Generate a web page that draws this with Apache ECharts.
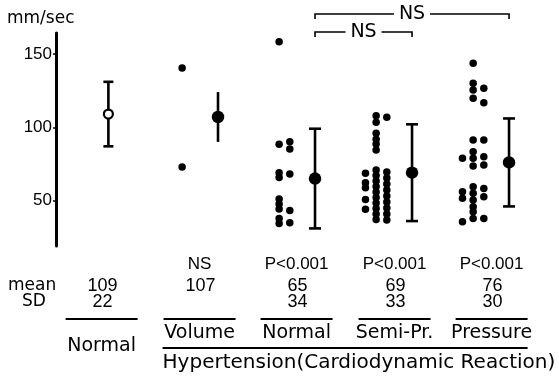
<!DOCTYPE html>
<html>
<head>
<meta charset="utf-8">
<script src="https://cdn.jsdelivr.net/npm/echarts@6/dist/echarts.min.js"></script>
<style>
  html, body { margin: 0; padding: 0; background: #fff; }
  #chart { width: 559px; height: 378px; }
</style>
</head>
<body>
<div id="chart"></div>
<script>
// ---- data (mm/sec) ----
const groupNames = ['Normal', 'Volume', 'Normal', 'Semi-Pr.', 'Pressure'];
const means = [109, 107, 65, 69, 76];
const sds = [22, null, 34, 33, 30];
const volumeSpread = 17;            // half-length of the volume group's bar (no SD printed)
const pLabels = ['', 'NS', 'P<0.001', 'P<0.001', 'P<0.001'];
const yTicks = [50, 100, 150];

// individual cases, one list per column of dots
const volumeDots = [[140.4, 72.9]];
const normalHtDots = [
  [158.4, 88.4, 69.0, 65.8, 51.0, 47.6, 44.2, 37.8, 34.4],
  [90.1, 85.2, 68.1, 43.3, 34.8]
];
const semiPrDots = [
  [68.6, 62.2, 58.7, 50.8, 44.0],
  [107.9, 103.4, 95.9, 91.8, 88.6, 84.5, 70.8, 67.1, 63.3, 59.6, 55.8, 52.0, 48.3, 44.5, 40.8, 37.0],
  [106.8, 69.5, 65.4, 61.3, 57.2, 53.1, 49.0, 44.9, 40.8, 36.7]
];
const pressureDots = [
  [78.8, 56.0, 51.5, 35.5],
  [143.7, 130.0, 125.4, 119.8, 91.3, 83.3, 78.8, 73.5, 59.4, 54.9, 50.3, 45.8, 42.4, 37.8],
  [126.6, 116.8, 91.3, 79.9, 74.2, 58.3, 52.6, 37.8]
];
const dotGroups = [null, volumeDots, normalHtDots, semiPrDots, pressureDots];

// ---- layout ----
const groupX = [-0.13, 1, 2, 3, 4];          // position of each mean/SD bar
const colOffsets = {1: [-0.37], 2: [-0.37, -0.26], 3: [-0.48, -0.37, -0.26]};
const labelX = [-0.2, 0.81, 1.81, 2.82, 3.82]; // centre of each group's table column
const capWidths = [10, 0, 12, 12, 12];
const INK = '#000';
const FONT_W = 'DejaVu Sans';
const FONT_N = 'Liberation Sans';

const dotData = [];
dotGroups.forEach((cols, g) => {
  if (!cols) return;
  const offs = colOffsets[cols.length];
  cols.forEach((col, c) => col.forEach(v => dotData.push([groupX[g] + offs[c], v])));
});

const barData = means.map((m, g) => {
  const s = sds[g] != null ? sds[g] : volumeSpread;
  return [groupX[g], m - s, m + s, capWidths[g]];
});

const chart = echarts.init(document.getElementById('chart'), null, {renderer: 'canvas'});

chart.setOption({
  animation: false,
  backgroundColor: '#fff',
  grid: {left: 56, right: 0, top: 33, bottom: 132, containLabel: false, outerBoundsMode: 'none'},
  xAxis: {type: 'value', min: -0.67, max: 4.515, show: false},
  yAxis: {
    type: 'value', min: 19, max: 164.3,
    axisLine: {show: true, onZero: false, lineStyle: {color: INK, width: 3}},
    axisTick: {show: true, customValues: yTicks, length: 3, lineStyle: {color: INK, width: 1.5}},
    axisLabel: {customValues: yTicks, color: INK, fontFamily: FONT_N, fontSize: 17, margin: 4},
    splitLine: {show: false}
  },
  series: [
    {
      type: 'scatter', name: 'cases', data: dotData,
      symbol: 'circle', symbolSize: 7.5, itemStyle: {color: INK, opacity: 1}, silent: true, z: 2
    },
    {
      type: 'custom', name: 'mean ± SD', data: barData, z: 3, silent: true,
      renderItem(params, api) {
        const x = api.value(0), lo = api.value(1), hi = api.value(2), cap = api.value(3);
        const top = api.coord([x, hi]), bot = api.coord([x, lo]);
        const st = {stroke: INK, lineWidth: 2.6};
        const children = [{type: 'line', shape: {x1: top[0], y1: top[1], x2: bot[0], y2: bot[1]}, style: st}];
        if (cap > 0) {
          children.push({type: 'line', shape: {x1: top[0] - cap / 2, y1: top[1], x2: top[0] + cap / 2, y2: top[1]}, style: st});
          children.push({type: 'line', shape: {x1: bot[0] - cap / 2, y1: bot[1], x2: bot[0] + cap / 2, y2: bot[1]}, style: st});
        }
        return {type: 'group', children};
      }
    },
    {
      type: 'scatter', name: 'mean', z: 4, silent: true,
      data: means.slice(1).map((m, i) => [groupX[i + 1], m]),
      symbol: 'circle', symbolSize: 12.5, itemStyle: {color: INK, opacity: 1}
    },
    {
      type: 'scatter', name: 'mean (normal)', z: 4, silent: true,
      data: [[groupX[0], means[0]]],
      symbol: 'circle', symbolSize: 9,
      itemStyle: {color: '#fff', borderColor: INK, borderWidth: 2.2, opacity: 1}
    }
  ]
});

// ---- annotations: brackets, table under the plot ----
const px = u => chart.convertToPixel({xAxisIndex: 0}, u);
const g = [];
const txt = (x, y, text, size, font, align) => g.push({
  type: 'text', x, y, silent: true,
  style: {text, fill: INK, font: size + 'px "' + font + '"', align: align || 'center', verticalAlign: 'middle'}
});
const hline = (x1, x2, y, w) => g.push({
  type: 'line', silent: true, shape: {x1, y1: y, x2, y2: y}, style: {stroke: INK, lineWidth: w || 2}
});

txt(7, 19, 'mm/sec', 17, FONT_W, 'left');

// significance brackets between hypertension subgroups
function bracket(a, b, y, label) {
  const x1 = px(groupX[a]), x2 = px(groupX[b]);
  g.push({type: 'polyline', silent: true,
    shape: {points: [[x1, y + 5], [x1, y], [x2, y], [x2, y + 5]]},
    style: {stroke: INK, lineWidth: 1.6, fill: null}});
  const mid = (x1 + x2) / 2;
  g.push({type: 'rect', silent: true, shape: {x: mid - 18, y: y - 8, width: 36, height: 16}, style: {fill: '#fff'}});
  txt(mid, y, label, 19, FONT_W);
}
bracket(2, 4, 14, 'NS');
bracket(2, 3, 32, 'NS');

txt(8, 286, 'mean', 17, FONT_W, 'left');
txt(22, 302, 'SD', 17, FONT_W, 'left');

groupNames.forEach((name, i) => {
  const cx = px(labelX[i]);
  if (pLabels[i]) txt(cx, 264, pLabels[i], 17, FONT_N);
  txt(cx + 1, 286, String(means[i]), 18, FONT_N);
  if (sds[i] != null) txt(cx + 1, 302, String(sds[i]), 18, FONT_N);
  hline(cx - 36, cx + 36, 319, 2.2);
  txt(cx, i === 0 ? 346 : 333, name, 19, FONT_W);
});

const hx1 = px(labelX[1]) - 37;
hline(hx1, px(labelX[4]) + 36, 348, 2);
txt(hx1, 363, 'Hypertension(Cardiodynamic Reaction)', 20, FONT_W, 'left');

chart.setOption({graphic: g});
</script>
</body>
</html>
